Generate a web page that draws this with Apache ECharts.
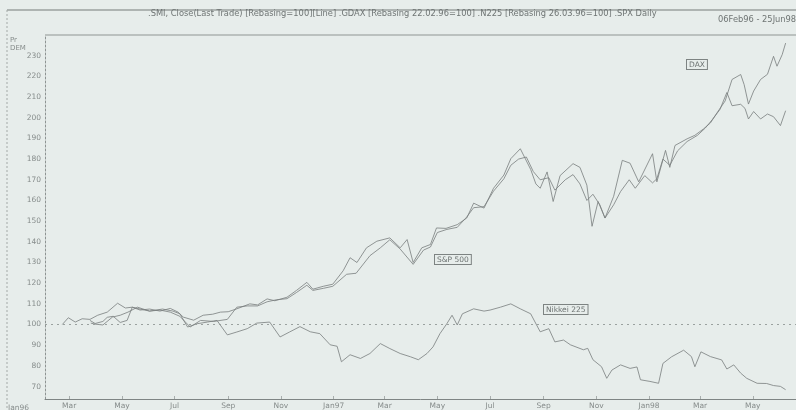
<!DOCTYPE html>
<html>
<head>
<meta charset="utf-8">
<script src="https://cdn.jsdelivr.net/npm/echarts@6/dist/echarts.min.js"></script>
<style>
  html, body { margin: 0; padding: 0; background: #e7edeb; }
  #main { width: 796px; height: 410px; }
</style>
</head>
<body>
<div id="main"></div>
<script>
// rebased index values (date, value)
const daxData = [
  ['1996-02-22', 100], ['1996-02-29', 103.3], ['1996-03-08', 101.2], ['1996-03-16', 102.8],
  ['1996-03-25', 102.5], ['1996-04-03', 104.5], ['1996-04-14', 106], ['1996-04-26', 110.3],
  ['1996-05-05', 108], ['1996-05-13', 108.4], ['1996-05-22', 107], ['1996-06-02', 107.5],
  ['1996-06-14', 106.5], ['1996-06-26', 107.8], ['1996-07-05', 106], ['1996-07-11', 103.6],
  ['1996-07-23', 102.1], ['1996-08-03', 104.5], ['1996-08-14', 105], ['1996-08-23', 106],
  ['1996-09-01', 106.2], ['1996-09-11', 107.6], ['1996-09-26', 110], ['1996-10-05', 109.5],
  ['1996-10-16', 112.4], ['1996-10-25', 111.5], ['1996-11-08', 113.2], ['1996-11-19', 116.5],
  ['1996-12-01', 120.4], ['1996-12-08', 117.1], ['1996-12-20', 118.5], ['1996-12-31', 119.5],
  ['1997-01-12', 126], ['1997-01-20', 132.3], ['1997-01-28', 130], ['1997-02-08', 137.1],
  ['1997-02-20', 140.3], ['1997-03-07', 141.9], ['1997-03-19', 137.1], ['1997-03-27', 141.1],
  ['1997-04-03', 130], ['1997-04-13', 137.1], ['1997-04-23', 138.7], ['1997-04-30', 146.7],
  ['1997-05-11', 146.5], ['1997-05-24', 148.3], ['1997-06-04', 151.5], ['1997-06-12', 158.7],
  ['1997-06-24', 156.3], ['1997-07-05', 165.9], ['1997-07-17', 172.3], ['1997-07-25', 180.2],
  ['1997-08-05', 185], ['1997-08-17', 175], ['1997-08-23', 168], ['1997-08-28', 165.9],
  ['1997-09-05', 173.8], ['1997-09-12', 159.5], ['1997-09-20', 172], ['1997-10-05', 177.8],
  ['1997-10-13', 176], ['1997-10-21', 167.4], ['1997-10-27', 147.5], ['1997-11-03', 159.5],
  ['1997-11-11', 151.5], ['1997-11-21', 162], ['1997-12-01', 179.4], ['1997-12-10', 178],
  ['1997-12-20', 169], ['1998-01-05', 182.6], ['1998-01-10', 169], ['1998-01-20', 184.2],
  ['1998-01-25', 176], ['1998-01-31', 186.6], ['1998-02-14', 189.8], ['1998-02-23', 191.5],
  ['1998-03-05', 194.6], ['1998-03-13', 197.5], ['1998-03-21', 202.6], ['1998-03-30', 208.1],
  ['1998-04-07', 218.5], ['1998-04-17', 220.9], ['1998-04-21', 216], ['1998-04-26', 206.6],
  ['1998-05-02', 212.9], ['1998-05-10', 218.5], ['1998-05-18', 221], ['1998-05-25', 229.7],
  ['1998-05-29', 224.9], ['1998-06-04', 230.5], ['1998-06-08', 236.1]
];
const spxData = [
  ['1996-03-25', 102], ['1996-03-31', 100.5], ['1996-04-09', 101.5], ['1996-04-14', 103.5],
  ['1996-04-21', 104], ['1996-04-29', 101], ['1996-05-07', 102], ['1996-05-13', 108.4],
  ['1996-05-22', 107.5], ['1996-06-02', 106.5], ['1996-06-14', 107], ['1996-06-26', 106],
  ['1996-07-07', 104], ['1996-07-19', 98.8], ['1996-07-31', 102], ['1996-08-15', 101.5],
  ['1996-08-31', 102.5], ['1996-09-11', 108.4], ['1996-09-23', 109], ['1996-10-05', 109],
  ['1996-10-16', 111], ['1996-10-27', 112], ['1996-11-08', 112.5], ['1996-11-19', 115.5],
  ['1996-12-01', 119], ['1996-12-08', 116.5], ['1996-12-20', 117.5], ['1996-12-31', 118.5],
  ['1997-01-16', 124.3], ['1997-01-27', 124.8], ['1997-02-12', 133.3], ['1997-02-24', 137.1],
  ['1997-03-07', 141], ['1997-03-19', 136.5], ['1997-04-03', 129.1], ['1997-04-15', 136],
  ['1997-04-23', 137.5], ['1997-05-01', 144.5], ['1997-05-12', 146], ['1997-05-24', 147],
  ['1997-06-04', 152], ['1997-06-12', 156.5], ['1997-06-24', 157], ['1997-07-05', 164.5],
  ['1997-07-17', 170.5], ['1997-07-25', 177], ['1997-08-03', 180], ['1997-08-12', 181],
  ['1997-08-20', 174], ['1997-08-28', 170], ['1997-09-07', 171], ['1997-09-14', 165],
  ['1997-09-26', 170], ['1997-10-05', 172.5], ['1997-10-13', 168], ['1997-10-21', 160],
  ['1997-10-28', 163], ['1997-11-05', 157.9], ['1997-11-11', 151.5], ['1997-11-21', 157.9],
  ['1997-11-29', 164.3], ['1997-12-09', 170], ['1997-12-16', 165.9], ['1997-12-27', 172],
  ['1998-01-05', 168.5], ['1998-01-10', 170.5], ['1998-01-17', 180], ['1998-01-25', 177],
  ['1998-02-03', 184], ['1998-02-14', 188.5], ['1998-02-26', 191.5], ['1998-03-07', 195],
  ['1998-03-15', 199], ['1998-03-24', 204], ['1998-04-01', 212.2], ['1998-04-07', 205.8],
  ['1998-04-17', 206.5], ['1998-04-22', 204.5], ['1998-04-26', 199.4], ['1998-05-02', 203],
  ['1998-05-10', 199.4], ['1998-05-18', 201.8], ['1998-05-25', 200.5], ['1998-06-02', 196.2],
  ['1998-06-08', 203.4]
];
const nikkeiData = [
  ['1996-03-26', 100.7], ['1996-03-31', 100.2], ['1996-04-09', 99.8], ['1996-04-20', 103.6],
  ['1996-04-29', 104.5], ['1996-05-08', 106], ['1996-05-19', 108.4], ['1996-06-02', 106.5],
  ['1996-06-17', 107.5], ['1996-06-29', 106.5], ['1996-07-07', 105.2], ['1996-07-16', 98.8],
  ['1996-07-27', 100.4], ['1996-08-08', 101.2], ['1996-08-19', 102], ['1996-08-31', 95],
  ['1996-09-11', 96.4], ['1996-09-23', 98], ['1996-10-04', 100.7], ['1996-10-19', 101.2],
  ['1996-10-31', 94], ['1996-11-11', 96.4], ['1996-11-23', 99], ['1996-12-05', 96.5],
  ['1996-12-16', 95.6], ['1996-12-28', 90.2], ['1997-01-05', 89.5], ['1997-01-10', 82],
  ['1997-01-20', 85.4], ['1997-02-01', 83.6], ['1997-02-12', 86], ['1997-02-24', 90.8],
  ['1997-03-07', 88.4], ['1997-03-19', 86], ['1997-03-31', 84.4], ['1997-04-09', 83],
  ['1997-04-19', 86], ['1997-04-26', 89.2], ['1997-05-04', 95.6], ['1997-05-12', 100.4],
  ['1997-05-18', 104.5], ['1997-05-24', 99.8], ['1997-05-30', 105.2], ['1997-06-12', 107.6],
  ['1997-06-24', 106.5], ['1997-07-01', 107], ['1997-07-13', 108.4], ['1997-07-25', 110],
  ['1997-08-05', 107.6], ['1997-08-17', 105.2], ['1997-08-28', 96.5], ['1997-09-07', 98],
  ['1997-09-14', 91.6], ['1997-09-24', 92.5], ['1997-10-02', 90.2], ['1997-10-17', 87.8],
  ['1997-10-22', 88.5], ['1997-10-28', 83], ['1997-11-07', 79.6], ['1997-11-13', 74],
  ['1997-11-19', 78], ['1997-11-29', 80.5], ['1997-12-10', 78.8], ['1997-12-18', 79.5],
  ['1997-12-22', 73.3], ['1998-01-02', 72.5], ['1998-01-12', 71.6], ['1998-01-17', 81.2],
  ['1998-01-27', 84.4], ['1998-02-10', 87.6], ['1998-02-19', 84.5], ['1998-02-23', 79.6],
  ['1998-03-02', 86.8], ['1998-03-13', 84.5], ['1998-03-26', 82.9], ['1998-04-01', 78.5],
  ['1998-04-09', 80.5], ['1998-04-17', 76.5], ['1998-04-24', 74], ['1998-05-06', 71.6],
  ['1998-05-17', 71.5], ['1998-05-25', 70.5], ['1998-06-02', 70.1], ['1998-06-08', 68.5]
];
const monthTicks = ['1996-03-01', '1996-05-01', '1996-07-01', '1996-09-01', '1996-11-01',
  '1997-01-01', '1997-03-01', '1997-05-01', '1997-07-01', '1997-09-01', '1997-11-01',
  '1998-01-01', '1998-03-01', '1998-05-01'];
const monthLabels = ['Mar', 'May', 'Jul', 'Sep', 'Nov', 'Jan97', 'Mar', 'May', 'Jul', 'Sep', 'Nov',
  'Jan98', 'Mar', 'May'];
const yTicks = [70, 80, 90, 100, 110, 120, 130, 140, 150, 160, 170, 180, 190, 200, 210, 220, 230];

const titleText = '.SMI, Close(Last Trade) [Rebasing=100][Line] .GDAX [Rebasing 22.02.96=100] .N225 [Rebasing 26.03.96=100] .SPX Daily';

// dates -> day number since 1996-01-01 (UTC, so no DST drift)
const DAY = 86400000;
const T0 = Date.UTC(1996, 0, 1);
function t(s) {
  const p = s.split('-');
  return (Date.UTC(+p[0], p[1] - 1, +p[2]) - T0) / DAY;
}
const toPts = arr => arr.map(d => [t(d[0]), d[1]]);
const tickDays = monthTicks.map(t);

const txt = '#868c8b';
const ink = '#787e7d';
const font = 'DejaVu Sans';

const myChart = echarts.init(document.getElementById('main'), null, { renderer: 'canvas' });

function lineSeries(name, data) {
  return {
    name: name,
    type: 'line',
    data: toPts(data),
    showSymbol: false,
    silent: true,
    lineStyle: { color: ink, width: 0.8 },
    animation: false
  };
}

const nikSeries = lineSeries('Nikkei 225', nikkeiData);
nikSeries.markLine = {
  silent: true,
  symbol: 'none',
  label: { show: false },
  lineStyle: { color: '#9aa19f', type: [2, 4], width: 1 },
  data: [{ yAxis: 100 }]
};

function boxLabel(left, top, text) {
  return {
    type: 'text',
    left: left,
    top: top,
    z: 10,
    style: {
      text: text,
      fill: '#6d7372',
      font: '7.5px ' + font,
      backgroundColor: '#e7edeb',
      borderColor: '#7d8382',
      borderWidth: 1,
      padding: [1, 2, 0, 2]
    }
  };
}

myChart.setOption({
  backgroundColor: '#e7edeb',
  animation: false,
  grid: { left: 45, right: 0, top: 35, bottom: 7 },
  xAxis: {
    type: 'value',
    min: t('1996-02-02'),
    max: t('1998-06-20'),
    splitLine: { show: false },
    axisLine: { lineStyle: { color: '#7f8584', width: 1 } },
    axisTick: { show: true, inside: true, length: 3, customValues: tickDays, lineStyle: { color: '#a8aead' } },
    axisLabel: {
      customValues: tickDays,
      color: txt,
      fontFamily: font,
      fontSize: 7.5,
      margin: 3,
      formatter: function (v) {
        const i = tickDays.indexOf(v);
        return i >= 0 ? monthLabels[i] : '';
      }
    }
  },
  yAxis: {
    type: 'value',
    min: 64,
    max: 240,
    splitLine: { show: false },
    axisLine: { show: true, lineStyle: { color: '#8e9493', type: [2, 2], width: 1 } },
    axisTick: { show: false },
    axisLabel: {
      customValues: yTicks,
      color: txt,
      fontFamily: font,
      fontSize: 7.5,
      margin: 4
    }
  },
  series: [lineSeries('DAX', daxData), lineSeries('S&P 500', spxData), nikSeries],
  graphic: [
    { type: 'line', shape: { x1: 7, y1: 10, x2: 796, y2: 10 }, style: { stroke: '#9ba19f', lineWidth: 1.5 } },
    { type: 'line', shape: { x1: 7, y1: 10, x2: 7, y2: 410 }, style: { stroke: '#a3a9a7', lineWidth: 1, lineDash: [2, 2] } },
    { type: 'line', shape: { x1: 45, y1: 35, x2: 796, y2: 35 }, style: { stroke: '#8f9594', lineWidth: 1.2 } },
    { type: 'text', left: 148, top: 10, style: { text: titleText, fill: '#6f7574', font: '8.3px ' + font } },
    { type: 'text', left: 718, top: 16, style: { text: '06Feb96 - 25Jun98', fill: '#6f7574', font: '8.3px ' + font } },
    { type: 'text', left: 10, top: 36, style: { text: 'Pr\nDEM', fill: txt, font: '7px ' + font, lineHeight: 8 } },
    { type: 'text', left: 8, top: 404, style: { text: 'Jan96', fill: txt, font: '7.5px ' + font } },
    boxLabel(686, 59, 'DAX'),
    boxLabel(434, 254, 'S&P 500'),
    boxLabel(543, 304, 'Nikkei 225')
  ]
});
</script>
</body>
</html>
